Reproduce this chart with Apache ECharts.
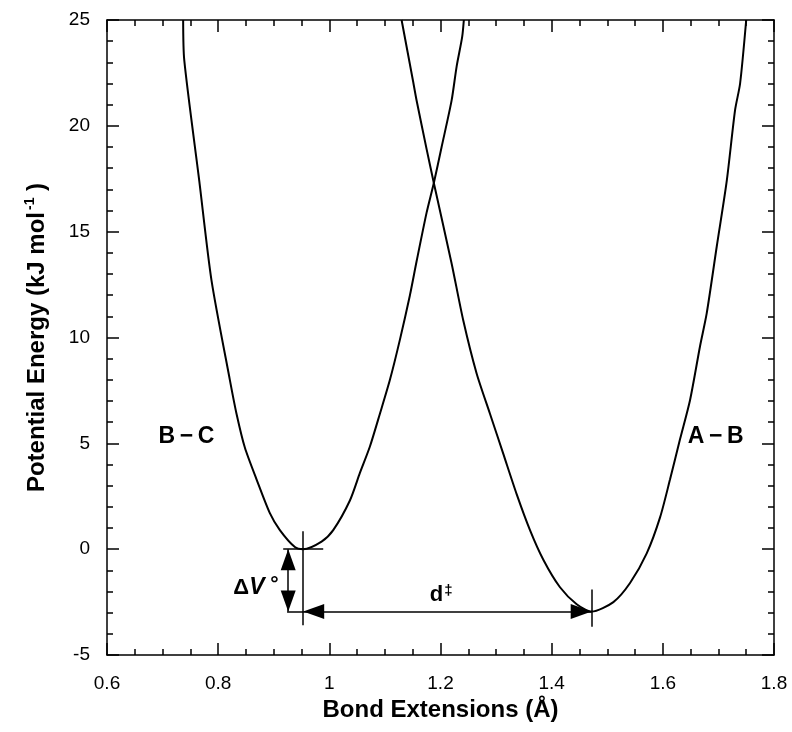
<!DOCTYPE html>
<html>
<head>
<meta charset="utf-8">
<script src="https://cdn.jsdelivr.net/npm/echarts@6/dist/echarts.min.js"></script>
<style>
html,body{margin:0;padding:0;background:#fff;}
#chart{width:792px;height:732px;}
</style>
</head>
<body>
<div id="chart"></div>
<script>
// B-C bond potential (bond extension in Å, energy in kJ/mol)
const bcX = [0.737, 0.739, 0.766, 0.788, 0.821, 0.833, 0.848, 0.869, 0.893, 0.911, 0.938, 0.953, 0.986, 1.007, 1.037, 1.055, 1.073, 1.091, 1.109, 1.127, 1.145, 1.157, 1.175, 1.188, 1.202, 1.220, 1.229, 1.239, 1.242];
const bcY = [25.0, 23.1, 17.4, 12.7, 8.0, 6.4, 4.8, 3.3, 1.7, 0.9, 0.1, 0.0, 0.36, 0.9, 2.3, 3.6, 4.85, 6.4, 8.0, 9.9, 12.0, 13.6, 15.9, 17.3, 19.0, 21.2, 22.8, 24.2, 25.0];
// A-B bond potential
const abX = [1.130, 1.150, 1.157, 1.175, 1.188, 1.220, 1.241, 1.265, 1.289, 1.313, 1.337, 1.361, 1.385, 1.415, 1.445, 1.472, 1.511, 1.541, 1.571, 1.595, 1.613, 1.631, 1.649, 1.667, 1.679, 1.697, 1.715, 1.730, 1.739, 1.750];
const abY = [25.0, 22.2, 21.2, 18.9, 17.3, 13.5, 10.8, 8.3, 6.4, 4.5, 2.6, 0.9, -0.5, -1.8, -2.6, -2.95, -2.5, -1.6, -0.2, 1.5, 3.3, 5.2, 7.05, 9.6, 11.15, 14.3, 17.4, 20.75, 22.0, 25.0];

// minima
const bcMin = [0.953, 0.0];
const abMin = [1.472, -2.95];

// axis settings
const xMin = 0.6, xMax = 1.8, xStep = 0.2;
const yMin = -5, yMax = 25, yStep = 5;

// annotation labels: [x, y, text]
const textLabels = [
  [0.744, 5.3, 'B\u2009\u2212\u2009C'],
  [1.696, 5.3, 'A\u2009\u2212\u2009B'],
  [0.869, -1.85, '{a|\u0394}{v|V}{s| \u00B0}'],
  [1.202, -2.2, '{a|d}{t|\u2021}']
];

// cross-hair segments at the minima
const crossSegs = [
  [[bcMin[0], 0.85], [bcMin[0], -3.6]],
  [[0.917, bcMin[1]], [0.989, bcMin[1]]],
  [[abMin[0], -1.9], [abMin[0], -3.66]],
  [[0.924, abMin[1]], [bcMin[0], abMin[1]]]
];
const dVArrowX = 0.926;

const font = '"Liberation Sans", Arial, Helvetica, sans-serif';
const chart = echarts.init(document.getElementById('chart'));

const zip = (xs, ys) => xs.map((x, i) => [x, ys[i]]);

const axisCommon = {
  axisLine: {show: true, onZero: false, lineStyle: {color: '#000', width: 1.5}},
  axisTick: {show: true, inside: true, length: 12, lineStyle: {color: '#000', width: 1.5}},
  minorTick: {show: true, length: 6, lineStyle: {color: '#000', width: 1.5}},
  splitLine: {show: false}
};

const bold = {fontWeight: 'bold', fontFamily: font, color: '#000', textBorderWidth: 0};
const arrowHead = (c) => ({coord: c, symbol: 'triangle', symbolSize: [15, 21], symbolOffset: [0, 10.5]});

chart.setOption({
  animation: false,
  backgroundColor: '#fff',
  grid: {left: 107, right: 18, top: 20, bottom: 77, containLabel: false},
  xAxis: [
    Object.assign({}, axisCommon, {
      type: 'value', min: xMin, max: xMax, interval: xStep, position: 'bottom',
      minorTick: Object.assign({}, axisCommon.minorTick, {splitNumber: 4}),
      axisLabel: {color: '#000', fontSize: 19, fontFamily: font, margin: 19,
        formatter: v => String(+v.toFixed(1))},
      name: 'Bond Extensions (\u00C5)', nameLocation: 'middle', nameGap: 36,
      nameTextStyle: Object.assign({fontSize: 24}, bold)
    }),
    Object.assign({}, axisCommon, {
      type: 'value', min: xMin, max: xMax, interval: xStep, position: 'top',
      minorTick: Object.assign({}, axisCommon.minorTick, {splitNumber: 4}),
      axisLabel: {show: false}
    })
  ],
  yAxis: [
    Object.assign({}, axisCommon, {
      type: 'value', min: yMin, max: yMax, interval: yStep, position: 'left',
      minorTick: Object.assign({}, axisCommon.minorTick, {splitNumber: 5}),
      axisLabel: {color: '#000', fontSize: 19, fontFamily: font, margin: 17},
      name: '{t|Potential Energy (kJ mol}{s|-1}{t| )}', nameLocation: 'middle', nameGap: 56,
      nameRotate: 90,
      nameTextStyle: {color: '#000', fontFamily: font,
        rich: {
          t: Object.assign({fontSize: 24}, bold),
          s: Object.assign({fontSize: 14, verticalAlign: 'top', padding: [0, 0, 14, 2]}, bold)
        }}
    }),
    Object.assign({}, axisCommon, {
      type: 'value', min: yMin, max: yMax, interval: yStep, position: 'right',
      minorTick: Object.assign({}, axisCommon.minorTick, {splitNumber: 5}),
      axisLabel: {show: false}
    })
  ],
  series: [
    {
      name: 'B-C', type: 'line', data: zip(bcX, bcY), showSymbol: false, smooth: 0.25,
      lineStyle: {color: '#000', width: 2}, silent: true, clip: true
    },
    {
      name: 'A-B', type: 'line', data: zip(abX, abY), showSymbol: false, smooth: 0.25,
      lineStyle: {color: '#000', width: 2}, silent: true, clip: true
    },
    {
      name: 'labels', type: 'scatter', silent: true,
      symbol: 'circle', symbolSize: 1, itemStyle: {color: '#fff', opacity: 0},
      data: textLabels.map(t => ({value: [t[0], t[1]], label: {formatter: t[2]}})),
      label: {
        show: true, position: [0, 0], align: 'center', verticalAlign: 'middle',
        color: '#000', fontSize: 23, fontWeight: 'bold', fontFamily: font,
        textBorderWidth: 0, opacity: 1,
        rich: {
          a: Object.assign({fontSize: 22}, bold),
          v: Object.assign({fontSize: 23, fontStyle: 'italic'}, bold),
          s: Object.assign({fontSize: 21, verticalAlign: 'top', padding: [0, 0, 8, 0]}, bold),
          t: Object.assign({fontSize: 15, verticalAlign: 'top', padding: [0, 0, 9, 1]}, bold)
        }
      }
    },
    {
      name: 'annotations', type: 'line', data: [], silent: true,
      markLine: {
        silent: true, animation: false,
        label: {show: false},
        emphasis: {disabled: true},
        lineStyle: {color: '#000', width: 1.5, type: 'solid'},
        symbol: 'none',
        data: crossSegs.map(s => [{coord: s[0], symbol: 'none'}, {coord: s[1], symbol: 'none'}]).concat([
          [arrowHead([dVArrowX, bcMin[1]]), arrowHead([dVArrowX, abMin[1]])],
          [arrowHead([bcMin[0], abMin[1]]), arrowHead([abMin[0], abMin[1]])]
        ])
      }
    }
  ]
});
</script>
</body>
</html>
